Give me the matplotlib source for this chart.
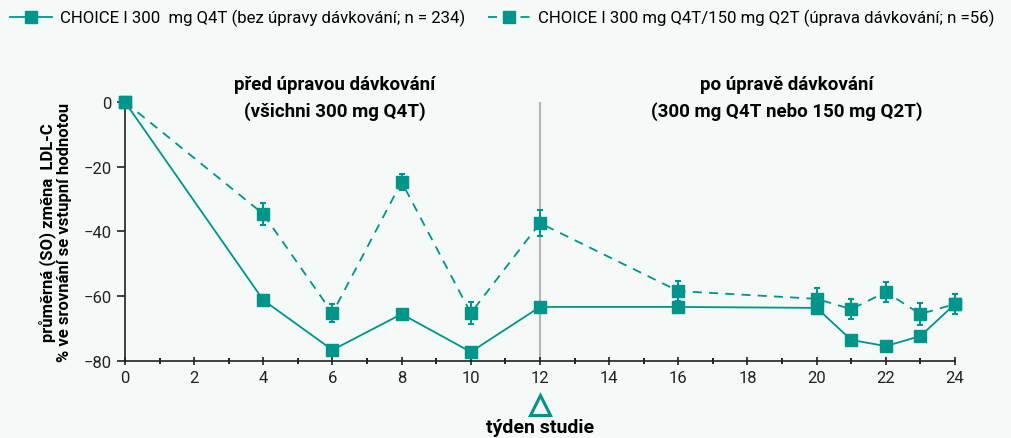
import numpy as np
import matplotlib
matplotlib.use("Agg")
import matplotlib.pyplot as plt
from matplotlib.lines import Line2D

plt.rcParams['font.family'] = ['Roboto', 'DejaVu Sans']

# týdny studie
weeks = [0, 4, 6, 8, 10, 12, 16, 20, 21, 22, 23, 24]

# CHOICE I 300 mg Q4T (bez úpravy dávkování)
solid_mean = [0, -61.2, -76.6, -65.5, -77.2, -63.3, -63.3, -63.6, -73.5, -75.4, -72.3, -62.4]
solid_err = [0, 1.0, 0.8, 0.8, 0.8, 1.0, 1.5, 1.5, 1.0, 0.8, 1.2, 1.5]

# CHOICE I 300 mg Q4T/150 mg Q2T (úprava dávkování)
dash_mean = [0, -34.6, -65.2, -24.7, -65.2, -37.4, -58.4, -60.8, -64.0, -58.7, -65.5, -62.4]
dash_err = [0, 3.3, 2.8, 2.5, 3.3, 4.0, 3.0, 3.2, 3.0, 3.0, 3.3, 3.0]

label_solid = "CHOICE I 300  mg Q4T (bez úpravy dávkování; n = 234)"
label_dash = "CHOICE I 300 mg Q4T/150 mg Q2T (úprava dávkování; n =56)"

teal = "#00958a"
bg = "#f5f9f8"
dash_style = (0, (5, 4))

fig = plt.figure(figsize=(10.11, 4.39), dpi=100, facecolor=bg)
ax = fig.add_axes([0.1236, 0.1754, 0.821, 0.59])
ax.set_facecolor(bg)

ax.axvline(12, color="#b5b5b5", lw=1.5, zorder=1)

ax.errorbar(weeks, solid_mean, yerr=solid_err, color=teal, lw=1.3, marker="s",
            markersize=8, capsize=2.5, elinewidth=1.5, capthick=1.5,
            clip_on=False, zorder=3)
ax.errorbar(weeks, dash_mean, yerr=dash_err, color=teal, lw=1.3, ls=dash_style,
            marker="s", markersize=8, capsize=2.5, elinewidth=1.5, capthick=1.5,
            clip_on=False, zorder=3)

ax.set_xlim(0, 24)
ax.set_ylim(-80, 0)
ax.set_xticks(range(0, 25, 2))
ax.set_xticks(range(0, 25, 1), minor=True)
ax.set_yticks([0, -20, -40, -60, -80])
ax.tick_params(axis="both", labelsize=12, color="#222222", labelcolor="#222222",
               width=1.2, length=6, direction="out")
ax.tick_params(axis="x", which="minor", length=4, width=1.2)
ax.tick_params(axis="x", which="both", direction="inout")
ax.spines["top"].set_visible(False)
ax.spines["right"].set_visible(False)
for s in ["left", "bottom"]:
    ax.spines[s].set_linewidth(1.2)
    ax.spines[s].set_color("#222222")

ax.set_ylabel("průměrná (SO) změna  LDL-C\n% ve srovnání se vstupní hodnotou",
              fontsize=12, fontweight="bold", labelpad=8, linespacing=1.1)

ax.text(6.07, 5.6, "před úpravou dávkování", ha="center", va="center",
        fontsize=13.5, fontweight="bold", clip_on=False)
ax.text(6.07, -2.8, "(všichni 300 mg Q4T)", ha="center", va="center",
        fontsize=13.5, fontweight="bold", clip_on=False)
ax.text(19.14, 5.6, "po úpravě dávkování", ha="center", va="center",
        fontsize=13.5, fontweight="bold", clip_on=False)
ax.text(19.14, -2.8, "(300 mg Q4T nebo 150 mg Q2T)", ha="center", va="center",
        fontsize=13.5, fontweight="bold", clip_on=False)

# trojúhelník pod osou v týdnu 12
ax.plot([12], [-93.5], marker="^", markersize=14, markerfacecolor="none",
        markeredgecolor=teal, markeredgewidth=2.2, clip_on=False)
ax.text(12, -100.5, "týden studie", ha="center", va="center",
        fontsize=14, fontweight="bold", clip_on=False)

handles = [
    Line2D([], [], color=teal, lw=1.3, marker="s", markersize=8),
    Line2D([], [], color=teal, lw=1.3, ls=dash_style, marker="s", markersize=8),
]
fig.legend(handles, [label_solid, label_dash], loc="upper left",
           bbox_to_anchor=(0.0, 1.0), ncol=2, frameon=False,
           fontsize=12.1, handlelength=2.5, columnspacing=1.4, handletextpad=0.45,
           borderaxespad=0.2)

fig.savefig("out.png", dpi=100, facecolor=bg)
